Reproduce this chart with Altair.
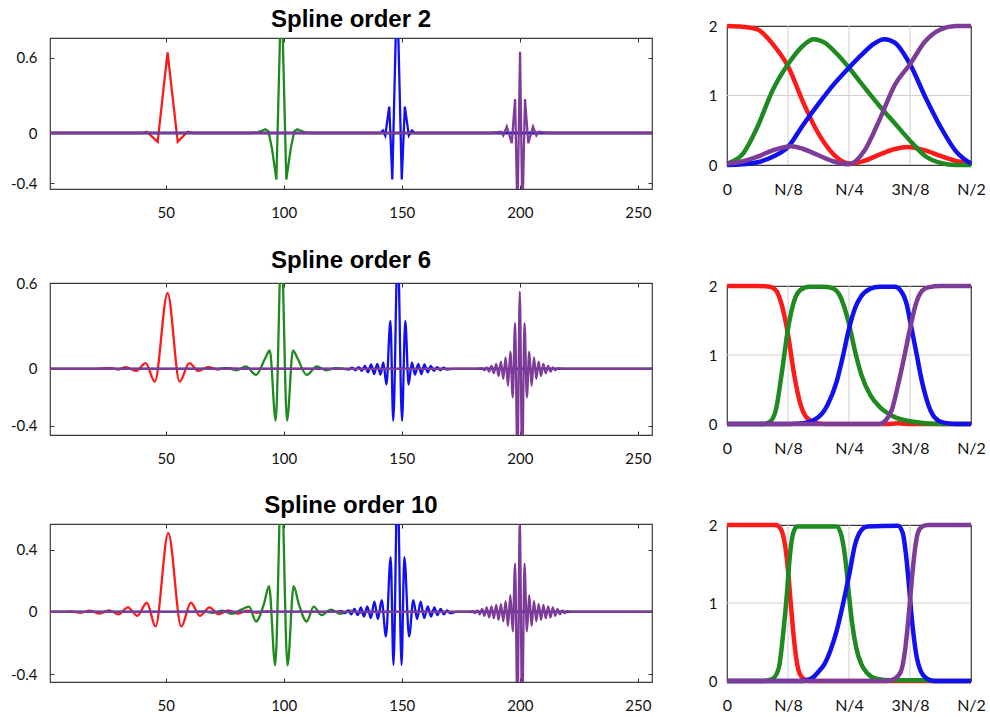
import json
import altair as alt
import pandas as pd

# ---------------- shared settings ----------------
SERIES = ["a_red", "b_green", "c_blue", "d_purple"]
COLORS = ["#ff1a1a", "#1f8a1f", "#1010f0", "#7d3c98"]

X_TICKS = [50, 100, 150, 200, 250]
X_DOMAIN = [1, 256]

F_TICKS = [0, 1, 2, 3, 4]
F_LABELS = ["0", "N/8", "N/4", "3N/8", "N/2"]
F_GRID_X = [1, 2, 3]
F_GRID_Y = [1]
F_YTICKS = [0, 1, 2]

TITLES = ["Spline order 2", "Spline order 6", "Spline order 10"]

# ---------------- order 2 : wavelets ----------------
w2_red_x = [1, 40, 42, 46.6, 50.8, 55.1, 59.3, 62, 256]
w2_red_y = [0, 0, 0.01, -0.07, 0.64, -0.07, 0.01, 0, 0]
w2_green_x = [1, 86, 89, 91, 92.2, 93.5, 95, 96.9, 99, 101.1, 103, 104.5, 105.8, 107, 109, 112, 256]
w2_green_y = [0, 0, 0.005, 0.02, 0.03, 0.015, -0.12, -0.37, 1.2, -0.37, -0.12, 0.015, 0.03, 0.02, 0.005, 0, 0]
w2_blue_x = [1, 138, 141, 142, 143, 144.7, 146, 148, 150, 151.3, 153, 154.3, 155.5, 158, 256]
w2_blue_y = [0, 0, 0.0, 0.02, -0.02, 0.21, -0.37, 1.2, -0.37, 0.21, -0.02, 0.02, 0, 0, 0]
w2_purple_x = [1, 188, 192, 193, 194.5, 196.6, 198, 199, 200.1, 201.1, 202.2, 203.6, 205.6, 207, 208, 212, 256]
w2_purple_y = [0, 0, 0.01, -0.02, 0.05, -0.08, 0.27, -0.65, 0.645, -0.65, 0.27, -0.08, 0.05, -0.02, 0.01, 0, 0]

# ---------------- order 6 : wavelets ----------------
w6_red_x = [1, 20, 27, 30, 33, 37.5, 41.5, 45.4, 50.8, 55.9, 60, 63.8, 68, 72, 75, 80, 256]
w6_red_y = [0, 0, 0.005, -0.005, 0.012, -0.015, 0.04, -0.09, 0.53, -0.09, 0.04, -0.015, 0.012, -0.005, 0.005, 0, 0]
w6_green_x = [1, 72, 76, 80, 84, 88.3, 92.2, 94.1, 96.6, 99, 101.4, 103.9, 105.8, 109.7, 114, 118, 122, 126, 256]
w6_green_y = [0, 0, 0.004, -0.01, 0.016, -0.042, 0.075, 0.128, -0.363, 0.85, -0.363, 0.128, 0.075, -0.042, 0.016, -0.01, 0.004, 0, 0]
w6_blue_x = [1, 125, 127.5, 129.0, 130.4, 131.8, 133.1, 134.4, 135.7, 137.0, 138.3, 139.6, 141.0, 142.2, 143.5,
             145.2, 146.4, 148.3, 150.1, 151.5, 152.9, 154.3, 155.6, 157.0, 158.3, 159.6, 161.0, 162.3, 163.6,
             165.0, 166.3, 167.7, 169.1, 172, 256]
w6_blue_y = [0, 0, -0.005, 0.008, -0.01, 0.012, -0.015, 0.02, -0.025, 0.03, -0.037, 0.035, -0.04, 0.045, -0.11,
             0.335, -0.363, 0.85, -0.363, 0.335, -0.11, 0.045, -0.04, 0.035, -0.037, 0.03, -0.025, 0.02, -0.015,
             0.012, -0.01, 0.008, -0.005, 0, 0]
w6_purple_x = [1, 182, 184, 185, 186, 187, 188, 189, 190, 191, 192, 193, 194, 195, 196, 197, 198, 199, 200,
               201, 202, 203, 204, 205, 206, 207, 208, 209, 210, 211, 212, 213, 214, 215, 216, 218, 256]
w6_purple_y = [0, 0, 0.005, -0.01, 0.01, -0.02, 0.02, -0.03, 0.035, -0.05, 0.05, -0.07, 0.08, -0.12, 0.12,
               -0.2, 0.32, -0.65, 0.54, -0.65, 0.32, -0.2, 0.12, -0.12, 0.08, -0.07, 0.05, -0.05, 0.035,
               -0.03, 0.02, -0.02, 0.01, -0.01, 0.005, 0, 0]

# ---------------- order 10 : wavelets ----------------
w10_red_x = [1, 6, 10, 14, 18, 22, 26, 30, 34, 38, 42, 45.7, 51.1, 56.6, 60.7, 64.5, 68.5, 72.5, 76.5, 80.5,
             84.5, 88.5, 92.5, 97, 256]
w10_red_y = [0, 0, 0.004, -0.005, 0.008, -0.01, 0.01, -0.015, 0.03, -0.025, 0.059, -0.093, 0.506, -0.093,
             0.059, -0.025, 0.03, -0.015, 0.01, -0.01, 0.008, -0.005, 0.004, 0, 0]
w10_green_x = [1, 62, 66, 70, 74, 78, 82, 85.3, 88.3, 91.5, 93.8, 96.4, 99, 101.6, 104.2, 106.5, 109.7, 112.7,
               116, 120, 124, 128, 132, 136, 256]
w10_green_y = [0, 0, 0.004, -0.006, 0.008, -0.012, 0.015, 0.034, -0.061, 0.045, 0.165, -0.343, 0.85, -0.343,
               0.165, 0.045, -0.061, 0.034, -0.02, 0.015, -0.012, 0.008, -0.005, 0, 0]
w10_blue_x = [1, 122, 124.5, 125.9, 127.3, 128.6, 130.0, 131.3, 132.7, 134.0, 135.4, 136.9, 138.4, 139.9,
              141.5, 143.3, 145.3, 146.5, 148.2, 149.9, 151.1, 153.1, 154.9, 156.5, 158.0, 159.5, 161.0,
              162.4, 163.8, 165.1, 166.5, 167.8, 169.2, 170.5, 173, 256]
w10_blue_y = [0, 0, 0.005, -0.008, 0.01, -0.015, 0.02, -0.02, 0.03, -0.03, 0.035, -0.04, 0.066, -0.045, 0.076,
              -0.157, 0.351, -0.34, 0.85, -0.34, 0.351, -0.157, 0.076, -0.045, 0.066, -0.04, 0.035, -0.03,
              0.03, -0.02, 0.02, -0.015, 0.01, -0.008, 0, 0]
w10_purple_x = [1, 178, 180, 181, 182, 183, 184, 185, 186, 187, 188, 189, 190, 191, 192, 193, 194, 195, 196,
                197, 198, 199, 200, 201, 202, 203, 204, 205, 206, 207, 208, 209, 210, 211, 212, 213, 214,
                215, 216, 217, 218, 219, 220, 222, 256]
w10_purple_y = [0, 0, 0.005, -0.008, 0.01, -0.015, 0.02, -0.025, 0.03, -0.035, 0.035, -0.04, 0.045, -0.05,
                0.05, -0.06, 0.07, -0.09, 0.108, -0.125, 0.31, -0.65, 0.563, -0.65, 0.31, -0.125, 0.108,
                -0.09, 0.07, -0.06, 0.05, -0.05, 0.045, -0.04, 0.035, -0.035, 0.03, -0.025, 0.02, -0.015,
                0.01, -0.008, 0.005, 0, 0]

# ---------------- frequency responses ----------------
f2_red_x = [0, 0.25, 0.5, 0.75, 1.0, 1.25, 1.5, 1.75, 2.0, 2.25, 2.5, 2.75, 2.95, 3.25, 3.5, 3.75, 4.0]
f2_red_y = [2.0, 1.99, 1.95, 1.74, 1.42, 0.9, 0.45, 0.15, 0.02, 0.06, 0.15, 0.23, 0.26, 0.21, 0.13, 0.06, 0.03]
f2_green_x = [0, 0.25, 0.5, 0.75, 1.0, 1.25, 1.42, 1.6, 1.8, 2.0, 2.25, 2.5, 2.75, 3.0, 3.25, 3.5, 3.75, 4.0]
f2_green_y = [0.02, 0.15, 0.55, 1.08, 1.45, 1.72, 1.81, 1.76, 1.6, 1.4, 1.12, 0.85, 0.6, 0.35, 0.13, 0.03, 0.0, 0.0]
f2_blue_x = [0, 0.25, 0.5, 0.75, 1.0, 1.25, 1.5, 1.75, 2.0, 2.2, 2.4, 2.58, 2.75, 3.0, 3.25, 3.5, 3.75, 4.0]
f2_blue_y = [0.0, 0.01, 0.04, 0.12, 0.26, 0.58, 0.88, 1.16, 1.4, 1.58, 1.74, 1.81, 1.76, 1.45, 0.98, 0.55, 0.2, 0.02]
f2_purple_x = [0, 0.25, 0.5, 0.75, 1.05, 1.25, 1.5, 1.75, 2.0, 2.25, 2.5, 2.75, 3.0, 3.25, 3.5, 3.75, 4.0]
f2_purple_y = [0.02, 0.05, 0.12, 0.21, 0.27, 0.23, 0.14, 0.05, 0.01, 0.2, 0.65, 1.15, 1.45, 1.78, 1.95, 2.0, 2.0]

f6_red_x = [0, 0.5, 0.7, 0.8, 0.9, 1.0, 1.1, 1.2, 1.3, 1.45, 1.6, 2.6, 2.8, 3.0, 4.0]
f6_red_y = [2.0, 2.0, 1.99, 1.94, 1.72, 1.3, 0.72, 0.3, 0.1, 0.02, 0.0, 0.0, 0.01, 0.0, 0.0]
f6_green_x = [0, 0.6, 0.7, 0.8, 0.9, 1.0, 1.1, 1.2, 1.35, 1.6, 1.75, 1.85, 2.0, 2.1, 2.2, 2.35, 2.5, 2.75, 3.0, 3.25, 3.5, 4.0]
f6_green_y = [0.0, 0.0, 0.03, 0.2, 0.75, 1.38, 1.78, 1.94, 1.99, 1.99, 1.96, 1.86, 1.45, 1.05, 0.72, 0.42, 0.25, 0.1, 0.04, 0.01, 0.0, 0.0]
f6_blue_x = [0, 1.0, 1.25, 1.5, 1.65, 1.8, 1.9, 2.0, 2.1, 2.2, 2.35, 2.5, 2.75, 2.85, 2.95, 3.0, 3.1, 3.2, 3.3, 3.4, 3.55, 3.75, 4.0]
f6_blue_y = [0.0, 0.0, 0.01, 0.1, 0.28, 0.62, 0.98, 1.38, 1.68, 1.85, 1.96, 1.99, 1.99, 1.93, 1.72, 1.5, 1.05, 0.6, 0.28, 0.1, 0.02, 0.0, 0.0]
f6_purple_x = [0, 2.5, 2.6, 2.7, 2.8, 2.9, 3.0, 3.1, 3.2, 3.3, 3.5, 4.0]
f6_purple_y = [0.0, 0.0, 0.05, 0.2, 0.55, 0.95, 1.38, 1.75, 1.93, 1.98, 2.0, 2.0]

f10_red_x = [0, 0.8, 0.88, 0.95, 1.0, 1.05, 1.1, 1.15, 1.2, 1.3, 1.4, 4.0]
f10_red_y = [2.0, 2.0, 1.95, 1.75, 1.42, 0.95, 0.52, 0.22, 0.08, 0.01, 0.0, 0.0]
f10_green_x = [0, 0.6, 0.75, 0.85, 0.92, 0.98, 1.03, 1.08, 1.15, 1.8, 1.88, 1.95, 2.0, 2.05, 2.12, 2.2, 2.3, 2.45, 2.7, 3.3, 3.4, 4.0]
f10_green_y = [0.0, 0.0, 0.03, 0.17, 0.6, 1.1, 1.6, 1.88, 1.98, 1.98, 1.85, 1.5, 1.1, 0.75, 0.42, 0.22, 0.1, 0.03, 0.01, 0.01, 0.0, 0.0]
f10_blue_x = [0, 1.2, 1.3, 1.4, 1.5, 1.6, 1.7, 1.8, 1.9, 2.0, 2.1, 2.2, 2.3, 2.8, 2.88, 2.93, 2.98, 3.03, 3.1, 3.18, 3.28, 3.4, 4.0]
f10_blue_y = [0.0, 0.0, 0.01, 0.04, 0.12, 0.22, 0.4, 0.65, 0.98, 1.35, 1.75, 1.93, 1.98, 1.99, 1.9, 1.65, 1.25, 0.8, 0.35, 0.12, 0.03, 0.0, 0.0]
f10_purple_x = [0, 2.6, 2.75, 2.85, 2.92, 2.98, 3.03, 3.08, 3.13, 3.2, 3.3, 4.0]
f10_purple_y = [0.0, 0.0, 0.03, 0.12, 0.4, 0.85, 1.3, 1.68, 1.9, 1.98, 2.0, 2.0]

# ---------------- layout values ----------------
LEFT_W = 602
RIGHT_W = 244
ROWS = [
    dict(title=TITLES[0], xs=[w2_red_x, w2_green_x, w2_blue_x, w2_purple_x],
         ys=[w2_red_y, w2_green_y, w2_blue_y, w2_purple_y], ydom=[-0.445, 0.755], yticks=[-0.4, 0, 0.6],
         h=151, interp="linear",
         fxs=[f2_red_x, f2_green_x, f2_blue_x, f2_purple_x], fys=[f2_red_y, f2_green_y, f2_blue_y, f2_purple_y],
         fh=139),
    dict(title=TITLES[1], xs=[w6_red_x, w6_green_x, w6_blue_x, w6_purple_x],
         ys=[w6_red_y, w6_green_y, w6_blue_y, w6_purple_y], ydom=[-0.463, 0.6], yticks=[-0.4, 0, 0.6],
         h=152, interp="monotone",
         fxs=[f6_red_x, f6_green_x, f6_blue_x, f6_purple_x], fys=[f6_red_y, f6_green_y, f6_blue_y, f6_purple_y],
         fh=138),
    dict(title=TITLES[2], xs=[w10_red_x, w10_green_x, w10_blue_x, w10_purple_x],
         ys=[w10_red_y, w10_green_y, w10_blue_y, w10_purple_y], ydom=[-0.449, 0.564], yticks=[-0.4, 0, 0.4],
         h=158, interp="monotone",
         fxs=[f10_red_x, f10_green_x, f10_blue_x, f10_purple_x], fys=[f10_red_y, f10_green_y, f10_blue_y, f10_purple_y],
         fh=156),
]
LEFT_GAPS = [1, 24, 23]    # blank strips above each left-hand panel
RIGHT_GAPS = [1, 57, 37]   # blank strips above each right-hand panel
TITLE_OFFSET = 3


def to_frame(xs, ys):
    rows = []
    for key, xv, yv in zip(SERIES, xs, ys):
        for a, b in zip(xv, yv):
            rows.append({"s": key, "x": a, "y": b})
    return pd.DataFrame(rows)


COLOR = alt.Color("s:N", scale=alt.Scale(domain=SERIES, range=COLORS), legend=None)
TICK_COLOR = "#333333"
NUM_LABEL = "'' + datum.value"


def spacer(h, w):
    return alt.Chart(pd.DataFrame({"v": [0]})).mark_point(opacity=0).encode(
        x=alt.value(0), y=alt.value(0)
    ).properties(width=w, height=h, view=alt.ViewBackground(stroke=None))


def wave_panel(row):
    df = to_frame(row["xs"], row["ys"])
    h = row["h"]
    xsc = alt.Scale(domain=X_DOMAIN, nice=False, zero=False)
    ysc = alt.Scale(domain=row["ydom"], nice=False, zero=False)
    lines = alt.Chart(df).mark_line(strokeWidth=2.3, clip=True, interpolate=row["interp"]).encode(
        x=alt.X("x:Q", scale=xsc, axis=alt.Axis(orient="bottom", values=X_TICKS, ticks=False, domain=False,
                                                 grid=False, labelPadding=16, title=None)),
        y=alt.Y("y:Q", scale=ysc, axis=alt.Axis(orient="left", values=row["yticks"], ticks=False, domain=False,
                                                 grid=False, labelPadding=13, title=None,
                                                 labelExpr=NUM_LABEL)),
        color=COLOR,
        order=alt.Order("x:Q"),
    )
    corners = pd.DataFrame({"x": X_DOMAIN, "y": row["ydom"]})
    ticks_a = alt.Chart(corners).mark_point(opacity=0).encode(
        x=alt.X("x:Q", scale=xsc, axis=alt.Axis(orient="top", offset=-h, values=X_TICKS, labels=False,
                                                 domain=False, grid=False, tickSize=4, tickColor=TICK_COLOR,
                                                 title=None)),
        y=alt.Y("y:Q", scale=ysc, axis=alt.Axis(orient="right", offset=-LEFT_W, values=row["yticks"],
                                                 labels=False, domain=False, grid=False, tickSize=4,
                                                 tickColor=TICK_COLOR, title=None)),
    )
    ticks_b = alt.Chart(corners).mark_point(opacity=0).encode(
        x=alt.X("x:Q", scale=xsc, axis=alt.Axis(orient="bottom", offset=-h, values=X_TICKS, labels=False,
                                                 domain=False, grid=False, tickSize=4, tickColor=TICK_COLOR,
                                                 title=None)),
        y=alt.Y("y:Q", scale=ysc, axis=alt.Axis(orient="left", offset=-LEFT_W, values=row["yticks"],
                                                 labels=False, domain=False, grid=False, tickSize=4,
                                                 tickColor=TICK_COLOR, title=None)),
    )
    return alt.layer(lines, ticks_a, ticks_b).resolve_scale(x="independent", y="independent").resolve_axis(
        x="independent", y="independent").properties(
        width=LEFT_W, height=h,
        title=alt.TitleParams(row["title"], fontSize=24, font="Liberation Sans", fontWeight="bold",
                              color="black", offset=TITLE_OFFSET, frame="group", anchor="middle"))


def freq_panel(row):
    df = to_frame(row["fxs"], row["fys"])
    xsc = alt.Scale(domain=[0, 4], nice=False, zero=False)
    ysc = alt.Scale(domain=[0, 2], nice=False, zero=False)
    label_expr = json.dumps(F_LABELS).replace('"', "'") + "[datum.value]"
    xaxis = alt.Axis(values=F_TICKS, labelExpr=label_expr, ticks=False, domain=False, grid=False,
                     labelFlush=False, labelPadding=16, labelFontSize=16, title=None)
    yaxis = alt.Axis(values=F_YTICKS, ticks=False, domain=False, grid=False, labelPadding=10, title=None,
                     labelExpr=NUM_LABEL)
    gx = alt.Chart(pd.DataFrame({"x": F_GRID_X})).mark_rule(color="#cfcfcf", strokeWidth=1).encode(
        x=alt.X("x:Q", scale=xsc, axis=xaxis))
    gy = alt.Chart(pd.DataFrame({"y": F_GRID_Y})).mark_rule(color="#cfcfcf", strokeWidth=1).encode(
        y=alt.Y("y:Q", scale=ysc, axis=yaxis))
    lines = alt.Chart(df).mark_line(strokeWidth=4.5, interpolate="monotone").encode(
        x=alt.X("x:Q", scale=xsc, axis=xaxis),
        y=alt.Y("y:Q", scale=ysc, axis=yaxis),
        color=COLOR,
        order=alt.Order("x:Q"),
    )
    return alt.layer(gx, gy, lines).properties(width=RIGHT_W, height=row["fh"])


left_items = []
for gap, r in zip(LEFT_GAPS, ROWS):
    left_items.append(spacer(gap, LEFT_W))
    left_items.append(wave_panel(r))
right_items = []
for gap, r in zip(RIGHT_GAPS, ROWS):
    right_items.append(spacer(gap, RIGHT_W))
    right_items.append(freq_panel(r))

left_col = alt.vconcat(*left_items, spacing=0)
right_col = alt.vconcat(*right_items, spacing=9)

chart = alt.hconcat(left_col, right_col, spacing=51).properties(
    padding={"left": 9, "top": 1, "right": 2, "bottom": 0},
    background="white",
).configure_view(stroke="#3c3c3c", strokeWidth=1.2).configure_axis(
    labelFont="Lato", labelFontSize=15, labelColor="#111111"
)

chart.save("out.html", embed_options={"renderer": "svg", "actions": False})
